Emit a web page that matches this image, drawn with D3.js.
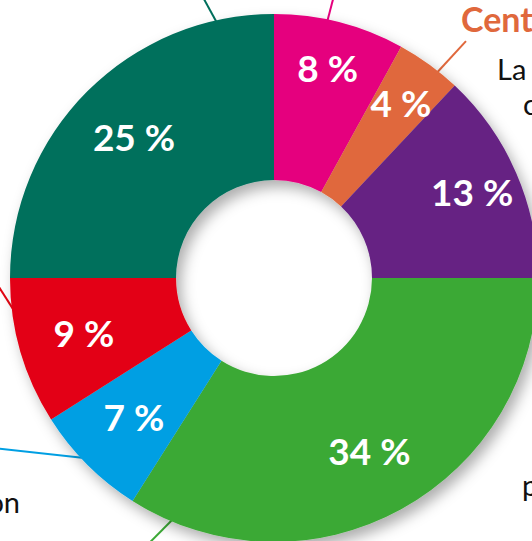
<!DOCTYPE html>
<html>
<head>
<meta charset="utf-8">
<script src="https://cdn.jsdelivr.net/npm/d3@7"></script>
<style>
  body { margin: 0; background: #fff; }
  svg { display: block; }
</style>
</head>
<body>
<div id="chart"></div>
<script>
// slices, clockwise from 12 o'clock
var categories = ["a", "b", "c", "d", "e", "f", "g"]
var values = [8, 4, 13, 34, 7, 9, 25]
var labels = ["8 %", "4 %", "13 %", "34 %", "7 %", "9 %", "25 %"]
var colors = ["#e5007e", "#e0683c", "#662483", "#3ba935", "#009fe3", "#e30613", "#006f5c"]

// leader lines: angle where they leave the ring (deg) and the offset of their far end
var leaderAngle = [11.7, 38.4, 202.6, 226.1, 261.9, 347.5]
var leaderEnd = [[7, -26], [28, -30], [-26, 24], [-90, -13], [-20, -38], [-15, -25]]
var leaderColor = ["#e5007e", "#e0683c", "#3ba935", "#009fe3", "#e30613", "#006f5c"]

var width = 532
var height = 541
var cx = 274
var cy = 278
var outerR = 264
var innerR = 98

var svg = d3.select("#chart").append("svg")
            .attr("width", width)
            .attr("height", height)

var defs = svg.append("defs")
var shadow = defs.append("filter")
                 .attr("id", "shadow")
                 .attr("x", "-20%").attr("y", "-20%")
                 .attr("width", "140%").attr("height", "140%")
shadow.append("feDropShadow")
      .attr("dx", 5)
      .attr("dy", 7)
      .attr("stdDeviation", 7)
      .attr("flood-color", "#000")
      .attr("flood-opacity", 0.32)

var g = svg.append("g")
           .attr("transform", "translate(" + cx + "," + cy + ")")

var pie = d3.pie().sort(null).value(function(d) { return d.value })
var data = pie(categories.map(function(c, i) {
  return {cat: c, value: values[i], label: labels[i], color: colors[i]}
}))

var arc = d3.arc().innerRadius(innerR).outerRadius(outerR)

// leader lines go under the ring
var rad = Math.PI / 180
g.append("g")
 .attr("class", "leaders")
 .selectAll("line")
 .data(leaderAngle)
 .enter().append("line")
 .attr("x1", function(d) { return Math.sin(d * rad) * (outerR - 4) })
 .attr("y1", function(d) { return -Math.cos(d * rad) * (outerR - 4) })
 .attr("x2", function(d, i) { return Math.sin(d * rad) * outerR + leaderEnd[i][0] })
 .attr("y2", function(d, i) { return -Math.cos(d * rad) * outerR + leaderEnd[i][1] })
 .attr("stroke", function(d, i) { return leaderColor[i] })
 .attr("stroke-width", 2)

g.append("g")
 .attr("class", "slices")
 .attr("filter", "url(#shadow)")
 .selectAll("path")
 .data(data)
 .enter().append("path")
 .attr("d", arc)
 .attr("fill", function(d) { return d.data.color })

// small slices carry their label a bit further out
var labelArc = function(d) {
  var r = d.data.value < 20 && d.startAngle < Math.PI ? 216 : 198
  return d3.arc().innerRadius(r).outerRadius(r).centroid(d)
}

var fs = 37
g.append("g")
 .attr("class", "labels")
 .selectAll("text")
 .data(data)
 .enter().append("text")
 .attr("x", function(d) { return labelArc(d)[0] })
 .attr("y", function(d) { return labelArc(d)[1] + fs * 0.36 })
 .attr("text-anchor", "middle")
 .attr("fill", "#fff")
 .style("font-family", "Lato, sans-serif")
 .style("font-weight", 700)
 .style("font-size", fs + "px")
 .text(function(d) { return d.data.label })

// cut-off captions around the chart
svg.append("text")
   .attr("x", 461).attr("y", 32)
   .attr("fill", "#e0683c")
   .style("font-family", "Lato, sans-serif")
   .style("font-weight", 700)
   .style("font-size", "34px")
   .text("Cent")

var captions = [
  {t: "La", x: 497, y: 80, a: "start"},
  {t: "c", x: 523, y: 115, a: "start"},
  {t: "p", x: 522, y: 496, a: "start"},
  {t: "on", x: 20, y: 513, a: "end"}
]
svg.selectAll(".caption")
   .data(captions)
   .enter().append("text")
   .attr("class", "caption")
   .attr("x", function(d) { return d.x })
   .attr("y", function(d) { return d.y })
   .attr("text-anchor", function(d) { return d.a })
   .attr("fill", "#111")
   .style("font-family", "Lato, sans-serif")
   .style("font-size", "29px")
   .text(function(d) { return d.t })
</script>
</body>
</html>
